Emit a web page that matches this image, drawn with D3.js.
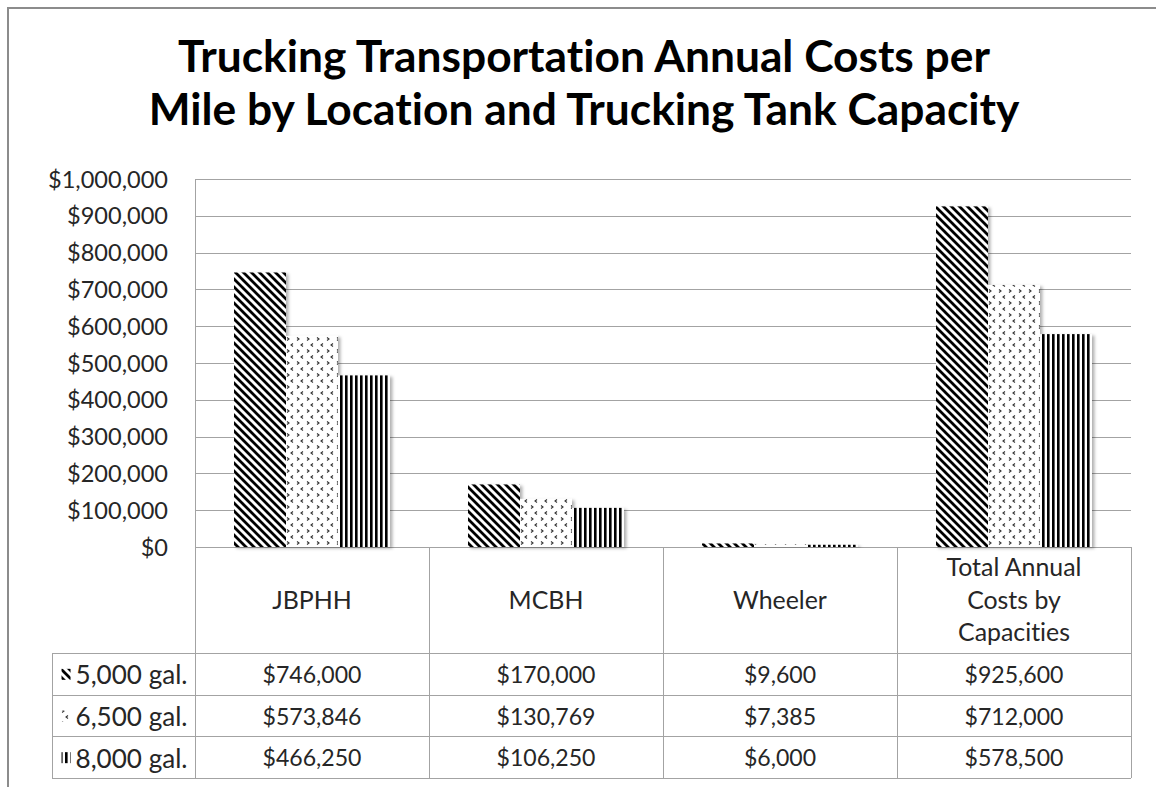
<!DOCTYPE html>
<html>
<head>
<meta charset="utf-8">
<script src="https://cdn.jsdelivr.net/npm/d3@7"></script>
<style>
  html, body { margin: 0; padding: 0; background: #fff; }
  svg { display: block; }
  text {
    font-family: Lato, "Open Sans", "DejaVu Sans", sans-serif;
    font-variant-ligatures: none;
    font-feature-settings: "liga" 0, "clig" 0;
  }
</style>
</head>
<body>
<svg id="chart" width="1156" height="787"></svg>
<script>
// ---- data ----
const titleLines = ["Trucking Transportation Annual Costs per", "Mile by Location and Trucking Tank Capacity"];
const categories = ["JBPHH", "MCBH", "Wheeler", "Total Annual Costs by Capacities"];
const categoryLines = [["JBPHH"], ["MCBH"], ["Wheeler"], ["Total Annual", "Costs by", "Capacities"]];
const seriesNames = ["5,000 gal.", "6,500 gal.", "8,000 gal."];
const costs5000 = [746000, 170000, 9600, 925600];
const costs6500 = [573846, 130769, 7385, 712000];
const costs8000 = [466250, 106250, 6000, 578500];
const yTicks = [0, 100000, 200000, 300000, 400000, 500000, 600000, 700000, 800000, 900000, 1000000];

const seriesValues = [costs5000, costs6500, costs8000];

// ---- layout ----
const plotLeft = 195, plotRight = 1131, plotTop = 179, zeroY = 547;
const headerBottom = 653, tableBottom = 778, tableLeft = 52;
const rowH = (tableBottom - headerBottom) / seriesNames.length;
const gridColor = "#a3a3a3";
const textColor = "#262626";

const svg = d3.select("#chart");
const defs = svg.append("defs");

// fill patterns for the three tank capacities
const pDiag = defs.append("pattern").attr("id", "pat0")
  .attr("patternUnits", "userSpaceOnUse").attr("width", 8).attr("height", 8);
pDiag.append("rect").attr("width", 8).attr("height", 8).attr("fill", "#fff");
pDiag.append("path").attr("d", "M-2,-2 L10,10 M-2,6 L2,10 M6,-2 L10,2")
  .attr("stroke", "#000").attr("stroke-width", 2.8);

const pDots = defs.append("pattern").attr("id", "pat1")
  .attr("patternUnits", "userSpaceOnUse").attr("width", 10).attr("height", 12);
pDots.append("rect").attr("width", 10).attr("height", 12).attr("fill", "#fff");
pDots.append("path").attr("d", "M2,1.5 L4,3 L2,4.5 M8,7.5 L6,9 L8,10.5")
  .attr("fill", "none").attr("stroke", "#333").attr("stroke-width", 1.1);

const pVert = defs.append("pattern").attr("id", "pat2")
  .attr("patternUnits", "userSpaceOnUse").attr("width", 5).attr("height", 5);
pVert.append("rect").attr("width", 5).attr("height", 5).attr("fill", "#fff");
pVert.append("rect").attr("x", 0).attr("width", 2.6).attr("height", 5).attr("fill", "#000");

const shadow = defs.append("filter").attr("id", "barShadow")
  .attr("x", "-20%").attr("y", "-5%").attr("width", "150%").attr("height", "120%");
shadow.append("feDropShadow").attr("dx", 2.5).attr("dy", 1.5)
  .attr("stdDeviation", 1.8).attr("flood-color", "#000").attr("flood-opacity", 0.3);

// font sizing: scale a text so that a sample string spans a given width
function fitSize(sample, weight, targetWidth) {
  const t = svg.append("text").attr("font-size", 100).attr("font-weight", weight).text(sample);
  const w = t.node().getComputedTextLength();
  t.remove();
  return 100 * targetWidth / w;
}
const titleSize = fitSize(titleLines[0], 700, 812);
const tickSize = fitSize("$1,000,000", 400, 120);
const catSize = fitSize("Total Annual", 400, 135);
const valueSize = fitSize("$746,000", 400, 99);
const rowLabelSize = fitSize("5,000 gal.", 400, 112);

// outer frame
svg.append("rect").attr("x", 8).attr("y", 8).attr("width", 1160).attr("height", 800)
  .attr("fill", "#fff").attr("stroke", "#8c8c8c").attr("stroke-width", 2);

// title
svg.append("g").selectAll("text").data(titleLines).join("text")
  .attr("x", 584).attr("y", (d, i) => 72 + i * 53)
  .attr("text-anchor", "middle").attr("font-weight", 700)
  .attr("font-size", titleSize).attr("fill", "#000").text(d => d);

// scales
const x = d3.scaleBand().domain(categories).range([plotLeft, plotRight]);
const x1 = d3.scaleBand().domain(seriesNames).range([0, x.bandwidth()])
  .paddingInner(0).paddingOuter(0.75);
const y = d3.scaleLinear().domain([0, 1000000]).range([zeroY, plotTop]);
const fmt = d3.format("$,.0f");

// gridlines
svg.append("g").selectAll("line").data(yTicks).join("line")
  .attr("x1", plotLeft).attr("x2", plotRight)
  .attr("y1", d => Math.round(y(d)) + 0.5).attr("y2", d => Math.round(y(d)) + 0.5)
  .attr("stroke", gridColor).attr("stroke-width", 1);

// y axis labels
const yAxis = d3.axisLeft(y).tickValues(yTicks).tickFormat(fmt).tickSize(0).tickPadding(0);
const yAxisG = svg.append("g").attr("transform", `translate(${plotLeft - 27},0)`).call(yAxis);
yAxisG.select(".domain").remove();
yAxisG.selectAll("text").attr("font-size", tickSize).attr("fill", textColor)
  .attr("font-family", null).attr("dy", "0.34em");

// bars
const groups = svg.append("g").selectAll("g").data(categories).join("g")
  .attr("transform", d => `translate(${x(d)},0)`);
groups.selectAll("rect")
  .data((c, ci) => seriesNames.map((s, si) => ({ s, si, v: seriesValues[si][ci] })))
  .join("rect")
  .attr("x", d => x1(d.s)).attr("width", x1.bandwidth())
  .attr("y", d => y(d.v)).attr("height", d => zeroY - y(d.v))
  .attr("fill", d => `url(#pat${d.si})`)
  .attr("filter", "url(#barShadow)");

// data table grid
const tableG = svg.append("g").attr("stroke", gridColor).attr("stroke-width", 1).attr("fill", "none");
const colEdges = categories.map(c => x(c)).concat([plotRight]);
// plot area left edge down through the table
tableG.append("line").attr("x1", plotLeft + 0.5).attr("x2", plotLeft + 0.5)
  .attr("y1", plotTop).attr("y2", tableBottom);
colEdges.slice(1).forEach(cx => {
  tableG.append("line").attr("x1", Math.round(cx) + 0.5).attr("x2", Math.round(cx) + 0.5)
    .attr("y1", zeroY).attr("y2", tableBottom);
});
tableG.append("line").attr("x1", tableLeft + 0.5).attr("x2", tableLeft + 0.5)
  .attr("y1", headerBottom).attr("y2", tableBottom);
d3.range(seriesNames.length + 1).forEach(i => {
  const yy = Math.round(headerBottom + i * rowH) + 0.5;
  tableG.append("line").attr("x1", tableLeft).attr("x2", plotRight).attr("y1", yy).attr("y2", yy);
});

// category headers
const catCenterY = (zeroY + headerBottom) / 2;
const catLineH = 32.5;
categories.forEach((c, ci) => {
  const lines = categoryLines[ci];
  const cx = x(c) + x.bandwidth() / 2;
  lines.forEach((ln, li) => {
    svg.append("text").attr("x", cx)
      .attr("y", catCenterY + (li - (lines.length - 1) / 2) * catLineH)
      .attr("dy", "0.36em").attr("text-anchor", "middle")
      .attr("font-size", catSize).attr("fill", textColor).text(ln);
  });
});

// value cells
seriesNames.forEach((s, si) => {
  const cy = headerBottom + (si + 0.5) * rowH;
  categories.forEach((c, ci) => {
    svg.append("text").attr("x", x(c) + x.bandwidth() / 2).attr("y", cy + 1)
      .attr("dy", "0.36em").attr("text-anchor", "middle")
      .attr("font-size", valueSize).attr("fill", textColor).text(fmt(seriesValues[si][ci]));
  });
  // row header: legend key + series name, centred in the cell
  const label = svg.append("text").attr("y", cy + 1).attr("dy", "0.36em")
    .attr("font-size", rowLabelSize).attr("fill", textColor).text(s);
  const tw = label.node().getComputedTextLength();
  const keyW = 9, gap = 5;
  const startX = (tableLeft + plotLeft) / 2 + 1 - (keyW + gap + tw) / 2;
  label.attr("x", startX + keyW + gap);
  svg.append("rect").attr("x", startX).attr("y", cy - 5).attr("width", keyW).attr("height", 11)
    .attr("fill", `url(#pat${si})`);
});
</script>
</body>
</html>
